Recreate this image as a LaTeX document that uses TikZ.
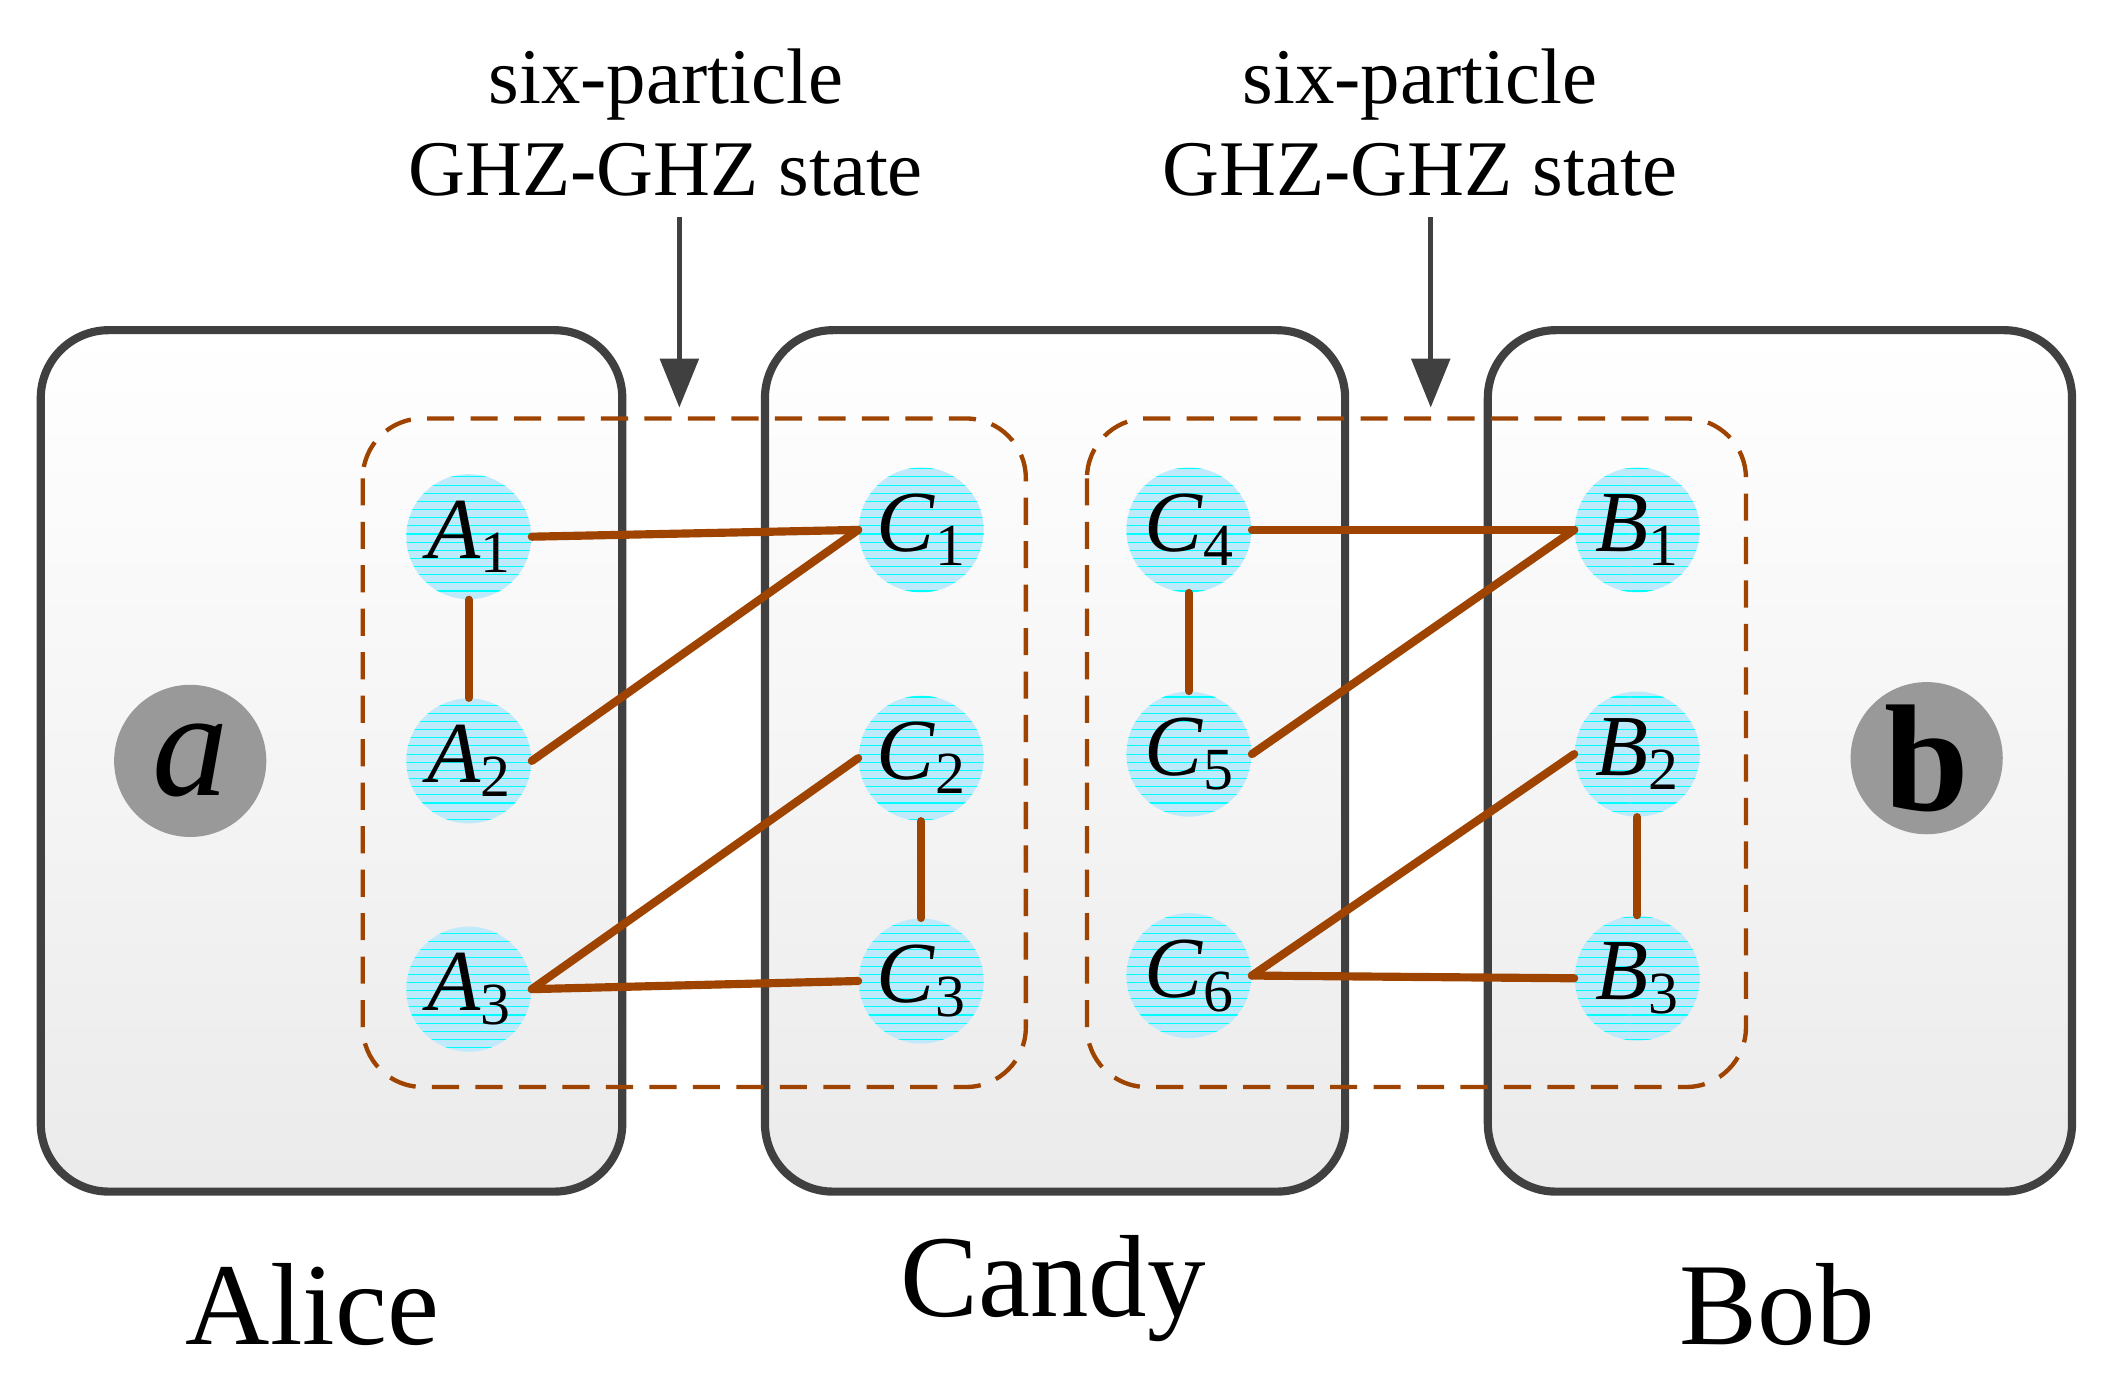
\documentclass[tikz,border=0pt]{standalone}
\usepackage{fontspec}
\setmainfont{Liberation Serif}
\usetikzlibrary{arrows.meta}
\usetikzlibrary{patterns}
\usetikzlibrary{positioning}
\definecolor{rust}{HTML}{9E4300}
\newcommand{\qb}[2]{\textit{#1}\raisebox{-0.35ex}{\fontsize{22}{22}\selectfont #2}}

\begin{document}
\begin{tikzpicture}[x=0.5pt,y=-0.5pt]
    \tikzset{
      party/.style={draw=black!75, line width=3pt, rounded corners=25pt,
        top color=white, bottom color=black!8},
      group/.style={draw=rust, line width=1.6pt, dash pattern=on 10pt off 6pt,
        rounded corners=22pt},
      qubit/.style={circle, minimum size=46pt, inner sep=0pt,
        preaction={fill=cyan!25}, pattern=horizontal lines, pattern color=cyan,
        font=\fontsize{32}{32}\selectfont},
      key/.style={circle, fill=black!40, minimum size=56pt, inner sep=0pt,
        font=\fontsize{56}{56}\selectfont},
      link/.style={draw=rust, line width=3pt, line cap=round},
      person/.style={font=\fontsize{43}{43}\selectfont},
      note/.style={font=\fontsize{29}{34}\selectfont, align=center},
    }
    \useasboundingbox (0,0) rectangle (1550,1012);

    % parties
    \draw[party] (30,243) rectangle (458,877);
    \draw[party] (563,243) rectangle (990,877);
    \draw[party] (1095,243) rectangle (1525,877);

    % GHZ-GHZ groups
    \draw[group] (267,308) rectangle (755,800);
    \draw[group] (800,308) rectangle (1285,800);

    % particles
    \node[qubit] (A1) at (345,395) {\qb{A}{1}};
    \node[qubit] (A2) at (345,560) {\qb{A}{2}};
    \node[qubit] (A3) at (345,728) {\qb{A}{3}};
    \node[qubit] (C1) at (678,390) {\qb{C}{1}};
    \node[qubit] (C2) at (678,558) {\qb{C}{2}};
    \node[qubit] (C3) at (678,722) {\qb{C}{3}};
    \node[qubit] (C4) at (875,390) {\qb{C}{4}};
    \node[qubit] (C5) at (875,555) {\qb{C}{5}};
    \node[qubit] (C6) at (875,718) {\qb{C}{6}};
    \node[qubit] (B1) at (1205,390) {\qb{B}{1}};
    \node[qubit] (B2) at (1205,555) {\qb{B}{2}};
    \node[qubit] (B3) at (1205,720) {\qb{B}{3}};

    \node[key] (ka) at (140,560) {\textit{a}};
    \node[key] (kb) at (1418,558) {\textbf{b}};

    % links
    \draw[link] (A1.east) -- (C1.west);
    \draw[link] (A2.east) -- (C1.west);
    \draw[link] (A1) -- (A2);
    \draw[link] (A3.east) -- (C2.west);
    \draw[link] (A3.east) -- (C3.west);
    \draw[link] (C2) -- (C3);
    \draw[link] (C4.east) -- (B1.west);
    \draw[link] (C5.east) -- (B1.west);
    \draw[link] (C4) -- (C5);
    \draw[link] (C6.east) -- (B2.west);
    \draw[link] (C6.east) -- (B3.west);
    \draw[link] (B2) -- (B3);

    % state labels
    \node[note] (s1) at (490,90) {six-particle\\GHZ-GHZ state};
    \node[note] (s2) at (1045,90) {six-particle\\GHZ-GHZ state};
    \coordinate (t1) at (500,300);
    \coordinate (t2) at (1053,300);
    \draw[-{Triangle[width=14pt,length=18pt]}, line width=2pt, black!75]
        (500,160) -- (t1);
    \draw[-{Triangle[width=14pt,length=18pt]}, line width=2pt, black!75]
        (1053,160) -- (t2);

    % names
    \node[person] (alice) at (230,960) {Alice};
    \node[person] (candy) at (775,948) {Candy};
    \node[person] (bob) at (1308,960) {Bob};
\end{tikzpicture}
\end{document}
